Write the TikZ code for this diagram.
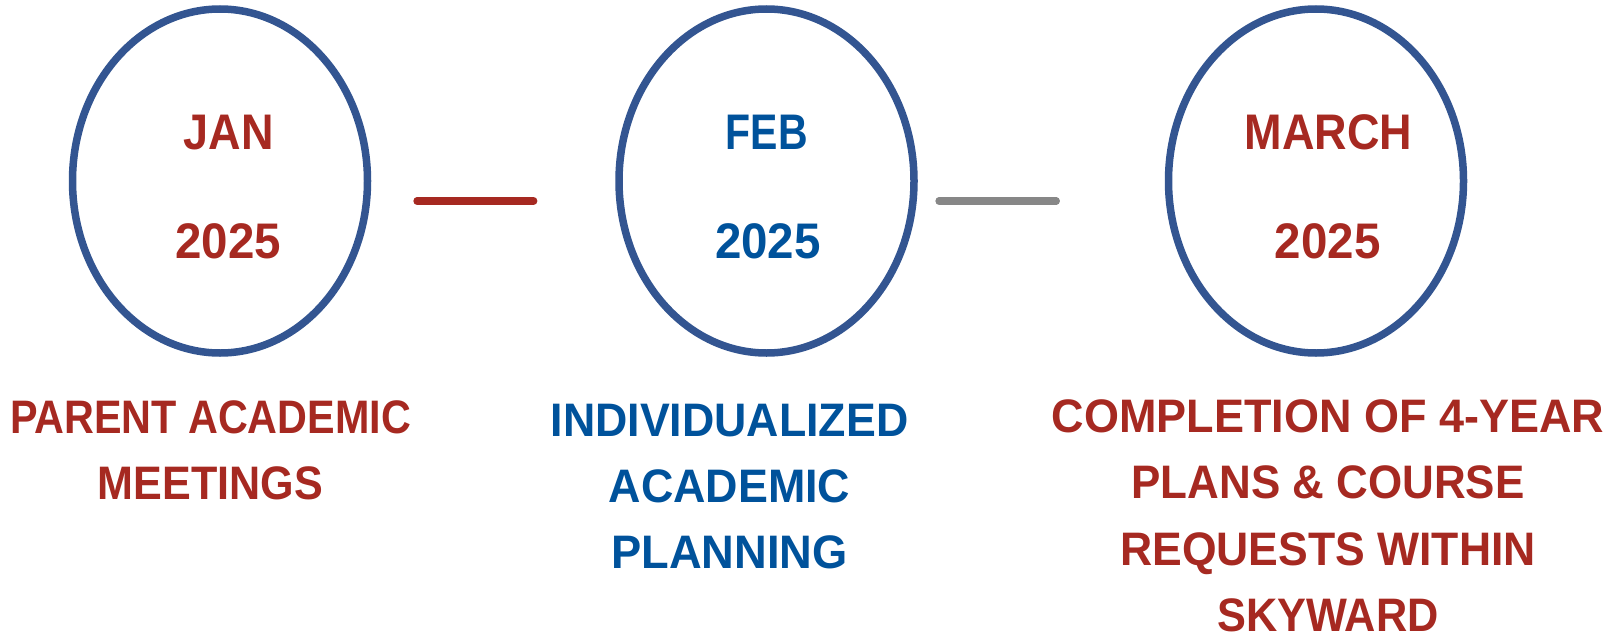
\documentclass[tikz,border=0pt]{standalone}
\usepackage{fontspec}
\usepackage{graphicx}
\setmainfont{Liberation Sans}
\usetikzlibrary{shapes.geometric}
\definecolor{ringblue}{RGB}{51,85,145}
\definecolor{txtred}{RGB}{166,41,33}
\definecolor{txtblue}{RGB}{0,82,155}
\definecolor{linegray}{RGB}{135,135,135}
\newcommand{\sx}[2]{\scalebox{#1}[1]{#2}}
\begin{document}
\begin{tikzpicture}[x=1pt,y=-1pt,
  ring/.style={ellipse,draw=ringblue,line width=7.5pt,minimum width=295pt,minimum height=344pt,inner sep=0pt},
  datetext/.style={font=\fontsize{50}{60}\selectfont\bfseries,anchor=base,inner sep=0pt},
  labeltext/.style={font=\fontsize{47}{66.3}\selectfont\bfseries,align=center,anchor=base,inner sep=0pt},
  link/.style={line width=7.3pt,line cap=round}]
\useasboundingbox (0,0) rectangle (1624,634);
% rings
\node[ring] (c1) at (220,181) {};
\node[ring] (c2) at (766.5,181) {};
\node[ring] (c3) at (1316,181) {};
% dates
\node[datetext,text=txtred] (m1) at (228.7,149.3) {\sx{0.9}{JAN}};
\node[datetext,text=txtred] (y1) at (228.3,258.3) {\sx{0.95}{2025}};
\node[datetext,text=txtblue] (m2) at (766.7,149.3) {\sx{0.82}{FEB}};
\node[datetext,text=txtblue] (y2) at (768,258.3) {\sx{0.95}{2025}};
\node[datetext,text=txtred] (m3) at (1328.3,149.3) {\sx{0.9}{MARCH}};
\node[datetext,text=txtred] (y3) at (1327.8,258.3) {\sx{0.95}{2025}};
% labels (anchor base = baseline of last line)
\node[labeltext,text=txtred] (t1) at (210.5,499.3) {\sx{0.879}{PARENT ACADEMIC}\\\sx{0.917}{MEETINGS}};
\node[labeltext,text=txtblue] (t2) at (729.5,568.7) {\sx{0.951}{INDIVIDUALIZED}\\\sx{0.954}{ACADEMIC}\\\sx{0.963}{PLANNING}};
\node[labeltext,text=txtred] (t3) at (1328,631.5) {\sx{0.957}{COMPLETION OF 4-YEAR}\\\sx{0.935}{PLANS \& COURSE}\\\sx{0.947}{REQUESTS WITHIN}\\\sx{0.921}{SKYWARD}};
% connectors
\coordinate (a1) at (417,201);
\coordinate (b1) at (533.7,201);
\coordinate (a2) at (939,201);
\coordinate (b2) at (1056.3,201);
\draw[link,draw=txtred] (a1) -- (b1);
\draw[link,draw=linegray] (a2) -- (b2);
\end{tikzpicture}
\end{document}
